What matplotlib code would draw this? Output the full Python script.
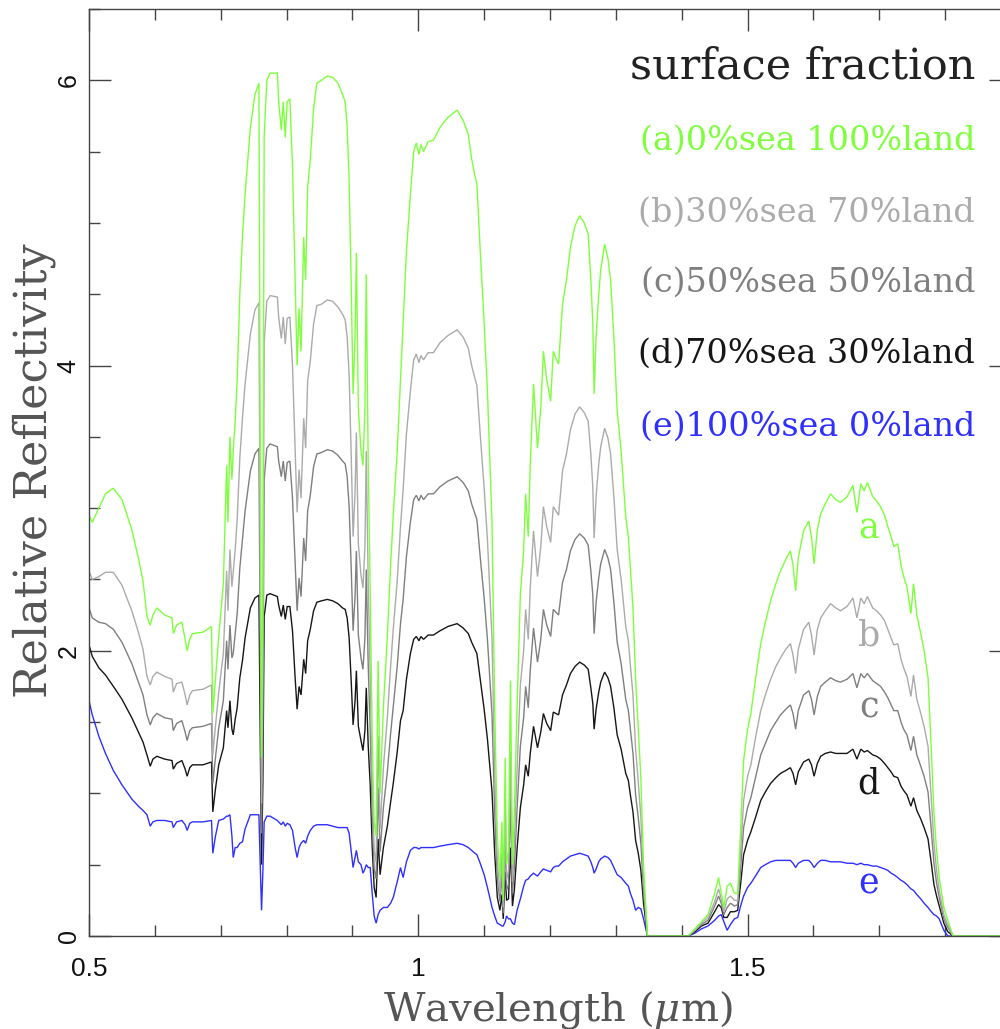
import matplotlib
matplotlib.use("Agg")
import matplotlib.pyplot as plt
from matplotlib.ticker import MultipleLocator

plt.rcParams["mathtext.fontset"] = "dejavuserif"

# Wavelength grid (micron) shared by all five spectra
wavelength = [
    0.500, 0.505, 0.515, 0.525, 0.537, 0.550, 0.565, 0.575, 0.582, 0.588,
    0.593, 0.597, 0.603, 0.615, 0.626, 0.628, 0.633, 0.641, 0.646, 0.649,
    0.653, 0.657, 0.673, 0.686, 0.688, 0.692, 0.697, 0.704, 0.709, 0.711,
    0.714, 0.717, 0.719, 0.722, 0.725, 0.729, 0.733, 0.737, 0.745, 0.752,
    0.758, 0.760, 0.762, 0.764, 0.766, 0.770, 0.775, 0.786, 0.788, 0.792,
    0.795, 0.798, 0.801, 0.805, 0.809, 0.813, 0.816, 0.819, 0.822, 0.826,
    0.829, 0.832, 0.836, 0.841, 0.846, 0.853, 0.862, 0.870, 0.878, 0.885,
    0.889, 0.892, 0.895, 0.898, 0.901, 0.904, 0.906, 0.909, 0.913, 0.916,
    0.919, 0.921, 0.924, 0.927, 0.930, 0.933, 0.936, 0.939, 0.942, 0.947,
    0.953, 0.958, 0.962, 0.968, 0.973, 0.977, 0.982, 0.988, 0.993, 0.997,
    1.001, 1.004, 1.008, 1.015, 1.023, 1.033, 1.045, 1.059, 1.068, 1.076,
    1.081, 1.086, 1.089, 1.094, 1.100, 1.105, 1.112, 1.116, 1.120, 1.124,
    1.127, 1.129, 1.132, 1.134, 1.137, 1.140, 1.143, 1.146, 1.150, 1.155,
    1.160, 1.163, 1.167, 1.170, 1.175, 1.181, 1.186, 1.190, 1.195, 1.201,
    1.205, 1.209, 1.213, 1.219, 1.225, 1.231, 1.238, 1.245, 1.252, 1.258,
    1.262, 1.265, 1.267, 1.270, 1.274, 1.277, 1.283, 1.288, 1.292, 1.297,
    1.302, 1.308, 1.315, 1.319, 1.322, 1.326, 1.330, 1.334, 1.338, 1.342,
    1.348, 1.410, 1.420, 1.430, 1.440, 1.450, 1.456, 1.460, 1.464, 1.469,
    1.474, 1.480, 1.485, 1.490, 1.494, 1.500, 1.505, 1.512, 1.520, 1.527,
    1.535, 1.543, 1.550, 1.558, 1.565, 1.569, 1.573, 1.577, 1.585, 1.593,
    1.597, 1.601, 1.606, 1.611, 1.618, 1.626, 1.634, 1.641, 1.651, 1.660,
    1.666, 1.672, 1.677, 1.682, 1.690, 1.696, 1.702, 1.708, 1.713, 1.718,
    1.722, 1.728, 1.733, 1.737, 1.742, 1.748, 1.752, 1.757, 1.763, 1.768,
    1.774, 1.779, 1.783, 1.787, 1.791, 1.798, 1.804, 1.812, 1.900,
]

# (a) 0% sea, 100% land
refl_a = [
    2.95, 2.90, 3.00, 3.10, 3.14, 3.06, 2.85, 2.65, 2.49, 2.24,
    2.18, 2.25, 2.30, 2.25, 2.23, 2.12, 2.18, 2.20, 2.08, 2.00,
    2.08, 2.12, 2.13, 2.17, 1.56, 1.80, 2.10, 2.47, 3.30, 2.90,
    3.50, 3.20, 3.40, 3.61, 3.90, 4.50, 4.90, 5.20, 5.67, 5.90,
    5.98, 3.50, 1.25, 2.50, 5.60, 6.00, 6.05, 6.05, 5.85, 5.65,
    5.85, 5.60, 5.85, 5.87, 5.40, 4.60, 4.00, 4.40, 4.10, 4.90,
    4.60, 5.25, 5.44, 5.80, 5.98, 6.00, 6.03, 6.02, 5.98, 5.90,
    5.85, 5.67, 5.30, 4.60, 3.80, 4.20, 4.79, 3.70, 3.40, 3.30,
    3.70, 4.64, 3.30, 2.40, 1.40, 0.80, 0.70, 1.93, 1.00, 1.60,
    2.10, 2.60, 2.95, 3.40, 3.90, 4.30, 4.80, 5.20, 5.50, 5.56,
    5.48, 5.55, 5.50, 5.57, 5.58, 5.67, 5.74, 5.79, 5.72, 5.62,
    5.45, 5.33, 5.27, 4.81, 4.30, 3.82, 2.89, 1.60, 0.70, 0.40,
    0.80, 0.25, 1.25, 0.50, 0.60, 1.79, 0.50, 0.90, 1.60, 2.40,
    2.70, 3.10, 2.80, 3.30, 3.87, 3.42, 3.70, 4.10, 3.90, 3.75,
    4.10, 4.05, 4.01, 4.43, 4.60, 4.83, 4.98, 5.05, 5.00, 4.92,
    4.60, 4.30, 3.80, 4.20, 4.50, 4.67, 4.85, 4.75, 4.60, 4.20,
    3.68, 3.40, 2.94, 2.80, 2.59, 2.30, 1.80, 1.46, 1.10, 0.50,
    0.00, 0.00, 0.05, 0.10, 0.15, 0.30, 0.41, 0.30, 0.20, 0.35,
    0.37, 0.30, 0.30, 0.80, 1.23, 1.45, 1.56, 1.80, 2.05, 2.20,
    2.35, 2.47, 2.56, 2.64, 2.70, 2.60, 2.42, 2.65, 2.84, 2.91,
    2.80, 2.61, 2.85, 2.96, 3.03, 3.10, 3.06, 3.04, 3.08, 3.16,
    2.97, 3.17, 3.12, 3.18, 3.08, 3.05, 3.01, 2.95, 2.87, 2.80,
    2.73, 2.75, 2.60, 2.52, 2.45, 2.26, 2.47, 2.25, 2.12, 2.00,
    1.81, 1.30, 0.86, 0.60, 0.41, 0.20, 0.11, 0.00, 0.00,
]

# (b) 30% sea, 70% land
refl_b = [
    2.56, 2.50, 2.52, 2.55, 2.55, 2.46, 2.28, 2.13, 2.01, 1.82,
    1.76, 1.82, 1.85, 1.82, 1.80, 1.71, 1.77, 1.78, 1.69, 1.62,
    1.69, 1.72, 1.73, 1.76, 1.27, 1.47, 1.71, 1.98, 2.56, 2.28,
    2.71, 2.45, 2.55, 2.71, 2.92, 3.35, 3.63, 3.87, 4.22, 4.39,
    4.44, 2.60, 0.93, 1.89, 4.16, 4.45, 4.49, 4.48, 4.34, 4.19,
    4.34, 4.15, 4.33, 4.34, 4.00, 3.41, 2.97, 3.27, 3.07, 3.63,
    3.42, 3.89, 4.03, 4.29, 4.42, 4.43, 4.46, 4.45, 4.41, 4.36,
    4.32, 4.20, 3.93, 3.40, 2.80, 3.11, 3.53, 2.75, 2.53, 2.44,
    2.73, 3.40, 2.45, 1.82, 1.07, 0.60, 0.52, 1.40, 0.75, 1.18,
    1.53, 1.89, 2.15, 2.49, 2.87, 3.13, 3.52, 3.82, 4.04, 4.08,
    4.02, 4.07, 4.04, 4.09, 4.09, 4.16, 4.21, 4.25, 4.20, 4.12,
    4.00, 3.91, 3.86, 3.52, 3.14, 2.78, 2.08, 1.16, 0.52, 0.30,
    0.58, 0.20, 0.91, 0.39, 0.46, 1.29, 0.38, 0.65, 1.17, 1.76,
    2.00, 2.29, 2.08, 2.44, 2.84, 2.52, 2.73, 3.01, 2.87, 2.76,
    3.01, 2.98, 2.95, 3.26, 3.38, 3.55, 3.66, 3.71, 3.67, 3.61,
    3.38, 3.15, 2.79, 3.08, 3.31, 3.43, 3.56, 3.49, 3.38, 3.08,
    2.71, 2.50, 2.17, 2.07, 1.90, 1.69, 1.31, 1.08, 0.83, 0.39,
    0.00, 0.00, 0.04, 0.09, 0.13, 0.24, 0.33, 0.26, 0.17, 0.26,
    0.28, 0.25, 0.25, 0.63, 0.95, 1.12, 1.20, 1.39, 1.58, 1.69,
    1.80, 1.89, 1.95, 2.01, 2.05, 1.97, 1.84, 2.01, 2.15, 2.20,
    2.11, 1.97, 2.15, 2.23, 2.28, 2.33, 2.30, 2.28, 2.31, 2.37,
    2.23, 2.37, 2.33, 2.38, 2.30, 2.28, 2.25, 2.21, 2.15, 2.09,
    2.04, 2.05, 1.94, 1.88, 1.82, 1.68, 1.83, 1.66, 1.56, 1.47,
    1.33, 0.96, 0.65, 0.46, 0.32, 0.15, 0.08, 0.00, 0.00,
]

# (c) 50% sea, 50% land
refl_c = [
    2.30, 2.23, 2.20, 2.19, 2.15, 2.06, 1.91, 1.78, 1.69, 1.55,
    1.48, 1.53, 1.56, 1.53, 1.52, 1.44, 1.49, 1.51, 1.43, 1.37,
    1.44, 1.46, 1.47, 1.49, 1.07, 1.25, 1.46, 1.65, 2.07, 1.87,
    2.18, 1.95, 1.98, 2.12, 2.26, 2.58, 2.78, 2.98, 3.26, 3.38,
    3.42, 2.00, 0.72, 1.48, 3.20, 3.42, 3.45, 3.43, 3.33, 3.22,
    3.33, 3.19, 3.32, 3.33, 3.07, 2.61, 2.28, 2.51, 2.38, 2.79,
    2.63, 2.98, 3.09, 3.29, 3.38, 3.39, 3.41, 3.40, 3.37, 3.33,
    3.31, 3.22, 3.01, 2.60, 2.14, 2.38, 2.70, 2.11, 1.95, 1.87,
    2.09, 2.57, 1.89, 1.44, 0.85, 0.47, 0.40, 1.04, 0.59, 0.90,
    1.15, 1.42, 1.61, 1.89, 2.19, 2.36, 2.66, 2.90, 3.06, 3.09,
    3.05, 3.09, 3.06, 3.10, 3.10, 3.15, 3.19, 3.22, 3.18, 3.12,
    3.03, 2.96, 2.92, 2.66, 2.37, 2.08, 1.55, 0.87, 0.40, 0.24,
    0.44, 0.16, 0.68, 0.32, 0.36, 0.96, 0.30, 0.49, 0.89, 1.33,
    1.53, 1.75, 1.60, 1.86, 2.16, 1.92, 2.08, 2.29, 2.18, 2.10,
    2.29, 2.27, 2.25, 2.48, 2.57, 2.70, 2.78, 2.82, 2.79, 2.74,
    2.56, 2.39, 2.12, 2.34, 2.51, 2.61, 2.71, 2.65, 2.57, 2.34,
    2.06, 1.91, 1.66, 1.58, 1.45, 1.28, 0.99, 0.83, 0.65, 0.31,
    0.00, 0.00, 0.04, 0.08, 0.11, 0.21, 0.28, 0.23, 0.15, 0.20,
    0.23, 0.21, 0.22, 0.51, 0.76, 0.90, 0.97, 1.11, 1.27, 1.35,
    1.44, 1.50, 1.55, 1.59, 1.62, 1.56, 1.45, 1.58, 1.69, 1.72,
    1.66, 1.55, 1.68, 1.75, 1.78, 1.81, 1.79, 1.78, 1.80, 1.84,
    1.74, 1.84, 1.81, 1.84, 1.79, 1.77, 1.75, 1.71, 1.67, 1.62,
    1.58, 1.58, 1.50, 1.45, 1.41, 1.30, 1.40, 1.27, 1.19, 1.12,
    1.01, 0.74, 0.51, 0.37, 0.27, 0.12, 0.06, 0.00, 0.00,
]

# (d) 70% sea, 30% land
refl_d = [
    2.04, 1.96, 1.88, 1.83, 1.75, 1.66, 1.53, 1.43, 1.36, 1.27,
    1.19, 1.24, 1.26, 1.24, 1.23, 1.17, 1.21, 1.23, 1.17, 1.12,
    1.18, 1.20, 1.20, 1.22, 0.87, 1.03, 1.20, 1.32, 1.58, 1.46,
    1.65, 1.45, 1.41, 1.52, 1.60, 1.81, 1.93, 2.09, 2.30, 2.37,
    2.39, 1.40, 0.50, 1.07, 2.24, 2.39, 2.40, 2.38, 2.32, 2.24,
    2.32, 2.22, 2.31, 2.31, 2.14, 1.81, 1.59, 1.75, 1.69, 1.94,
    1.84, 2.07, 2.15, 2.28, 2.34, 2.35, 2.36, 2.35, 2.33, 2.30,
    2.29, 2.23, 2.09, 1.80, 1.48, 1.65, 1.86, 1.47, 1.37, 1.30,
    1.44, 1.74, 1.33, 1.06, 0.63, 0.34, 0.27, 0.68, 0.43, 0.62,
    0.77, 0.94, 1.07, 1.29, 1.51, 1.58, 1.80, 1.98, 2.08, 2.10,
    2.07, 2.10, 2.08, 2.11, 2.11, 2.14, 2.17, 2.19, 2.16, 2.12,
    2.06, 2.01, 1.98, 1.80, 1.59, 1.38, 1.01, 0.58, 0.27, 0.18,
    0.29, 0.12, 0.45, 0.25, 0.26, 0.62, 0.21, 0.33, 0.61, 0.90,
    1.06, 1.20, 1.12, 1.28, 1.47, 1.32, 1.43, 1.56, 1.49, 1.44,
    1.57, 1.56, 1.55, 1.69, 1.76, 1.84, 1.89, 1.92, 1.90, 1.87,
    1.74, 1.63, 1.45, 1.59, 1.71, 1.78, 1.85, 1.81, 1.75, 1.60,
    1.41, 1.31, 1.14, 1.09, 0.99, 0.87, 0.67, 0.58, 0.46, 0.23,
    0.00, 0.00, 0.03, 0.07, 0.09, 0.17, 0.22, 0.20, 0.13, 0.13,
    0.17, 0.17, 0.18, 0.39, 0.57, 0.67, 0.73, 0.83, 0.95, 1.01,
    1.07, 1.11, 1.14, 1.16, 1.18, 1.14, 1.06, 1.15, 1.22, 1.24,
    1.20, 1.12, 1.21, 1.26, 1.28, 1.29, 1.28, 1.28, 1.28, 1.31,
    1.24, 1.31, 1.29, 1.30, 1.27, 1.26, 1.24, 1.21, 1.18, 1.15,
    1.12, 1.11, 1.05, 1.02, 0.99, 0.91, 0.97, 0.88, 0.82, 0.76,
    0.68, 0.51, 0.36, 0.28, 0.21, 0.09, 0.03, 0.00, 0.00,
]

# (e) 100% sea, 0% land
refl_e = [
    1.65, 1.55, 1.40, 1.28, 1.16, 1.06, 0.96, 0.91, 0.88, 0.85,
    0.77, 0.80, 0.81, 0.81, 0.80, 0.76, 0.80, 0.81, 0.78, 0.74,
    0.79, 0.80, 0.80, 0.81, 0.58, 0.70, 0.81, 0.82, 0.84, 0.84,
    0.85, 0.70, 0.55, 0.62, 0.62, 0.65, 0.66, 0.75, 0.85, 0.85,
    0.85, 0.50, 0.18, 0.45, 0.80, 0.84, 0.84, 0.81, 0.80, 0.78,
    0.80, 0.77, 0.79, 0.78, 0.74, 0.62, 0.55, 0.62, 0.65, 0.67,
    0.65, 0.70, 0.74, 0.77, 0.78, 0.78, 0.78, 0.77, 0.76, 0.76,
    0.76, 0.76, 0.72, 0.60, 0.48, 0.55, 0.60, 0.52, 0.50, 0.44,
    0.47, 0.50, 0.48, 0.48, 0.30, 0.14, 0.09, 0.15, 0.18, 0.20,
    0.20, 0.23, 0.27, 0.38, 0.48, 0.41, 0.52, 0.60, 0.62, 0.62,
    0.61, 0.62, 0.62, 0.62, 0.62, 0.63, 0.64, 0.65, 0.64, 0.62,
    0.60, 0.58, 0.57, 0.51, 0.43, 0.34, 0.20, 0.14, 0.09, 0.08,
    0.07, 0.07, 0.10, 0.14, 0.12, 0.12, 0.09, 0.08, 0.18, 0.26,
    0.35, 0.39, 0.40, 0.42, 0.44, 0.42, 0.45, 0.47, 0.46, 0.45,
    0.48, 0.49, 0.49, 0.52, 0.54, 0.56, 0.57, 0.58, 0.57, 0.56,
    0.52, 0.48, 0.44, 0.47, 0.52, 0.54, 0.56, 0.55, 0.53, 0.48,
    0.43, 0.41, 0.37, 0.35, 0.30, 0.25, 0.18, 0.20, 0.19, 0.12,
    0.00, 0.00, 0.02, 0.05, 0.07, 0.11, 0.14, 0.15, 0.10, 0.04,
    0.08, 0.12, 0.13, 0.22, 0.28, 0.34, 0.37, 0.42, 0.48, 0.50,
    0.52, 0.53, 0.53, 0.53, 0.53, 0.51, 0.48, 0.51, 0.53, 0.53,
    0.51, 0.48, 0.51, 0.53, 0.53, 0.52, 0.52, 0.52, 0.51, 0.51,
    0.50, 0.51, 0.50, 0.50, 0.49, 0.49, 0.48, 0.47, 0.46, 0.44,
    0.43, 0.41, 0.39, 0.38, 0.36, 0.33, 0.32, 0.29, 0.26, 0.23,
    0.20, 0.17, 0.15, 0.14, 0.12, 0.04, 0.00, 0.00, 0.00,
]

series = [refl_a, refl_b, refl_c, refl_d, refl_e]
legend_labels = [
    "(a)0%sea 100%land",
    "(b)30%sea 70%land",
    "(c)50%sea 50%land",
    "(d)70%sea 30%land",
    "(e)100%sea 0%land",
]
curve_tags = ["a", "b", "c", "d", "e"]
curve_tag_y = [2.79, 2.04, 1.53, 1.00, 0.30]
curve_tag_x = 1.684
colors = ["#7dff3c", "#ababab", "#7f7f7f", "#161616", "#2f2fff"]

fig = plt.figure(figsize=(10, 10.29), dpi=100)
ax = fig.add_axes([0.089, 0.0904, 0.922, 0.9009])

# draw sea-dominated spectra first so the land spectrum sits on top
for vals, col in reversed(list(zip(series, colors))):
    ax.plot(wavelength, vals, color=col, lw=1.0, solid_joinstyle="miter")

ax.set_xlim(0.5, 1.9)
ax.set_ylim(0, 6.5)

ax.xaxis.set_major_locator(MultipleLocator(0.5))
ax.xaxis.set_minor_locator(MultipleLocator(0.1))
ax.yaxis.set_major_locator(MultipleLocator(2))
ax.yaxis.set_minor_locator(MultipleLocator(0.5))
ax.set_xticks([0.5, 1.0, 1.5])
ax.set_xticklabels(["0.5", "1", "1.5"])
ax.set_yticks([0, 2, 4, 6])
ax.set_yticklabels(["0", "2", "4", "6"], rotation=90, va="center")

ax.tick_params(which="both", direction="in", top=True, right=True,
               color="#444444", width=1.0)
ax.tick_params(which="major", length=16)
ax.tick_params(which="minor", length=8)
ax.tick_params(axis="x", which="major", pad=15, labelsize=19,
               labelcolor="#111111")
ax.tick_params(axis="y", which="major", pad=6, labelsize=18,
               labelcolor="#111111")
for lab in ax.get_xticklabels() + ax.get_yticklabels():
    lab.set_family("Liberation Sans")

for sp in ax.spines.values():
    sp.set_color("#444444")
    sp.set_linewidth(1.0)

serif = "DejaVu Serif"
ax.text(0.961, 0.9245, "surface fraction", transform=ax.transAxes,
        ha="right", va="baseline", fontsize=31, family=serif,
        color="#222222")
legend_y = [0.848, 0.770, 0.695, 0.618, 0.540]
for txt, col, yy in zip(legend_labels, colors, legend_y):
    ax.text(0.961, yy, txt, transform=ax.transAxes, ha="right",
            va="baseline", fontsize=24, family=serif, color=col)

for tag, col, yy in zip(curve_tags, colors, curve_tag_y):
    ax.text(curve_tag_x, yy, tag, ha="center", va="baseline",
            fontsize=25, family=serif, color=col)

fig.text(0.558, 0.0087, r"Wavelength ($\mu$m)", ha="center",
         va="baseline", fontsize=29, family=serif, color="#555555")
fig.text(0.034, 0.543, "Relative Reflectivity", ha="center", va="center",
         rotation=90, fontsize=32, family=serif, color="#555555")

fig.savefig("out.png", dpi=100)
